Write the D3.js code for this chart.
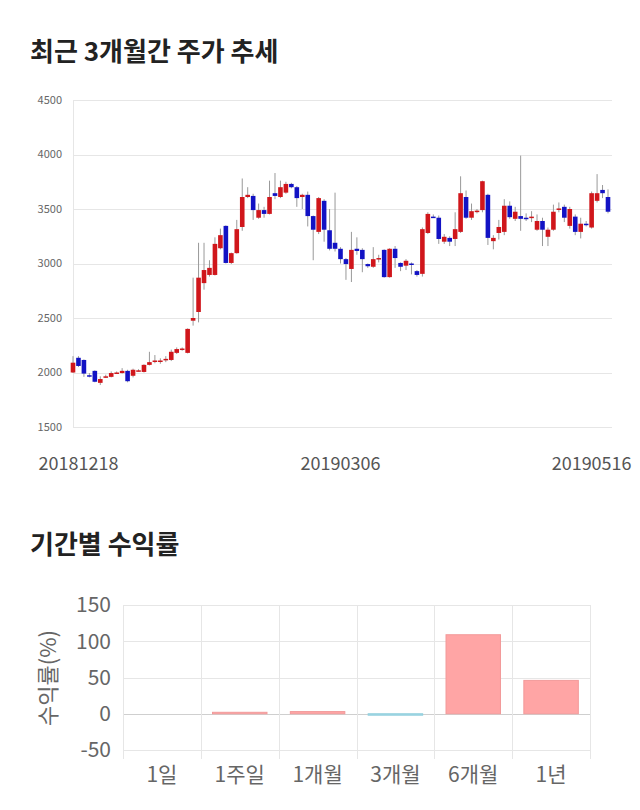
<!DOCTYPE html>
<meta charset="utf-8">
<style>
body {
	margin: 0;
	background: #fff;
	font-family: "Noto Sans CJK KR", "Noto Sans", sans-serif;
}
svg {
	display: block;
}
.title {
	font-size: 26px;
	font-weight: bold;
	fill: #222;
}
.grid line {
	stroke: #e6e6e6;
	shape-rendering: crispEdges;
}
.tick-label {
	fill: #666;
}
</style>
<body>
<svg width="640" height="810"></svg>

<script src="https://d3js.org/d3.v7.min.js"></script>
<script>

// daily candles: open, high, low, close
var opens  = [2000,2135,2115,1975,2015,1905,1955,1960,1995,1995,2015,1970,2015,2005,2070,2105,2105,2120,2115,2180,2215,2180,2475,2555,2820,2895,2895,3140,3345,3005,3095,3335,3610,3620,3420,3490,3455,3645,3610,3650,3730,3700,3610,3630,3435,3290,3575,3305,3190,3135,3040,2950,3135,3125,2995,2970,3045,3125,2875,3135,3005,2980,3000,2930,2905,3280,3430,3420,3200,3235,3225,3290,3610,3420,3480,3490,3630,3205,3280,3290,3530,3410,3435,3420,3425,3310,3390,3245,3310,3500,3520,3345,3430,3290,3365,3330,3575,3675,3610];
var highs  = [2150,2150,2120,1995,2020,1965,1980,2010,2010,2040,2025,2035,2030,2075,2190,2160,2130,2150,2210,2230,2230,2405,2870,3190,3190,3030,3240,3320,3350,3100,3400,3780,3700,3640,3550,3520,3760,3830,3760,3750,3740,3710,3640,3660,3440,3610,3590,3500,3650,3150,3050,3290,3240,3140,3000,3150,3080,3130,3140,3160,3010,3040,3010,2940,3330,3470,3450,3440,3270,3250,3470,3800,3670,3550,3500,3760,3640,3260,3400,3590,3570,3520,3990,3460,3480,3450,3420,3330,3540,3560,3540,3520,3450,3420,3390,3660,3820,3720,3680];
var lows   = [1995,2050,1960,1955,1910,1885,1950,1955,1990,1990,1910,1955,2010,2000,2065,2085,2080,2095,2105,2170,2200,2175,2430,2460,2760,2880,2890,3130,3000,2995,3090,3300,3600,3400,3410,3420,3450,3590,3600,3640,3690,3520,3500,3340,3030,3270,3200,3120,3110,3000,2850,2830,3080,2920,2960,2960,3010,2870,2870,2960,2930,2940,2900,2880,2880,3270,3420,3180,3180,3160,3160,3280,3410,3400,3460,3470,3170,3130,3220,3260,3410,3390,3300,3390,3380,3300,3160,3160,3300,3470,3380,3320,3260,3230,3340,3320,3560,3600,3460];
var closes = [2090,2060,1990,1965,1915,1940,1965,1995,2000,2015,1920,2025,2020,2070,2095,2110,2110,2125,2190,2215,2220,2400,2500,2870,2940,2960,3180,3260,3005,3095,3315,3610,3630,3490,3490,3455,3610,3620,3700,3730,3700,3600,3630,3435,3310,3600,3310,3135,3135,3040,2995,3125,3115,3040,2975,3040,3050,2875,3135,3050,2970,3025,2995,2895,3315,3455,3425,3225,3245,3200,3315,3645,3420,3480,3485,3755,3235,3235,3335,3530,3425,3475,3410,3415,3430,3390,3310,3310,3475,3505,3420,3500,3290,3365,3360,3645,3645,3645,3475];

var priceTicks = [1500, 2000, 2500, 3000, 3500, 4000, 4500];
var dateTicks = [{i: 1, label: "20181218"}, {i: 49, label: "20190306"}, {i: 95, label: "20190516"}];

// period returns (%)
var periods = ["1일", "1주일", "1개월", "3개월", "6개월", "1년"];
var returns = [0, 2, 3, -2, 109, 46];
var returnTicks = [-50, 0, 50, 100, 150];

var svg = d3.select("svg");

// ---- candle chart ----
svg.append("text").attr("class", "title")
	.attr("x", 30).attr("y", 61)
	.text("최근 3개월간 주가 추세");

var plotLeft = 73, plotRight = 612, plotTop = 100, plotBottom = 427;

var x = d3.scaleLinear()
	.domain([0, opens.length - 1])
	.range([73, 608]);

var y = d3.scaleLinear()
	.domain([1500, 4500])
	.range([plotBottom, plotTop]);

var grid = svg.append("g").attr("class", "grid");
grid.selectAll(".h")
	.data(priceTicks)
	.enter().append("line")
	.attr("x1", plotLeft).attr("x2", plotRight)
	.attr("y1", function(d) { return Math.round(y(d)) + 0.5; })
	.attr("y2", function(d) { return Math.round(y(d)) + 0.5; });
grid.append("line")
	.attr("x1", plotLeft + 0.5).attr("x2", plotLeft + 0.5)
	.attr("y1", plotTop).attr("y2", plotBottom);

svg.append("g").selectAll("text")
	.data(priceTicks)
	.enter().append("text")
	.attr("class", "tick-label")
	.attr("x", 62)
	.attr("y", function(d) { return y(d); })
	.attr("dy", "0.35em")
	.attr("text-anchor", "end")
	.style("font-size", "11px")
	.text(function(d) { return d; });

svg.append("g").selectAll("text")
	.data(dateTicks)
	.enter().append("text")
	.attr("x", function(d) { return x(d.i); })
	.attr("y", 470)
	.attr("text-anchor", "middle")
	.style("font-size", "18px")
	.style("fill", "#555")
	.text(function(d) { return d.label; });

var candles = svg.append("g");
opens.forEach(function(o, i) {
	var c = closes[i];
	var up = c >= o;
	var cx = x(i);
	candles.append("line")
		.attr("x1", cx).attr("x2", cx)
		.attr("y1", y(highs[i])).attr("y2", y(lows[i]))
		.attr("stroke", "#999")
		.attr("stroke-width", 1);
	var top1 = y(Math.max(o, c)), bot1 = y(Math.min(o, c));
	candles.append("rect")
		.attr("x", cx - 2.3)
		.attr("y", top1)
		.attr("width", 4.6)
		.attr("height", Math.max(1.5, bot1 - top1))
		.attr("fill", up ? "#d0161b" : "#1212c4");
});

// ---- return chart ----
svg.append("text").attr("class", "title")
	.attr("x", 30).attr("y", 554)
	.text("기간별 수익률");

var bx = d3.scaleBand()
	.domain(periods)
	.range([123, 590])
	.paddingInner(0.3)
	.paddingOuter(0.15);

var by = d3.scaleLinear()
	.domain([-50, 150])
	.range([750, 605]);

var bgrid = svg.append("g").attr("class", "grid");
bgrid.selectAll(".h")
	.data(returnTicks)
	.enter().append("line")
	.attr("x1", 123).attr("x2", 590)
	.attr("y1", function(d) { return Math.round(by(d)) + 0.5; })
	.attr("y2", function(d) { return Math.round(by(d)) + 0.5; })
	.style("stroke", function(d) { return d === 0 ? "#cfcfcf" : null; });

var step = bx.step();
var bounds = d3.range(periods.length + 1).map(function(k) { return 123 + k * step; });
bgrid.selectAll(".v")
	.data(bounds)
	.enter().append("line")
	.attr("x1", function(d) { return Math.round(d) + 0.5; })
	.attr("x2", function(d) { return Math.round(d) + 0.5; })
	.attr("y1", 605).attr("y2", 759);

svg.append("g").selectAll("text")
	.data(returnTicks)
	.enter().append("text")
	.attr("class", "tick-label")
	.attr("x", 111)
	.attr("y", function(d) { return by(d); })
	.attr("dy", "0.35em")
	.attr("text-anchor", "end")
	.style("font-size", "21px")
	.text(function(d) { return d; });

svg.append("g").selectAll("text")
	.data(periods)
	.enter().append("text")
	.attr("class", "tick-label")
	.attr("x", function(d) { return bx(d) + bx.bandwidth() / 2; })
	.attr("y", 782)
	.attr("text-anchor", "middle")
	.style("font-size", "21px")
	.text(function(d) { return d; });

svg.append("text")
	.attr("class", "tick-label")
	.attr("transform", "translate(56,678) rotate(-90)")
	.attr("text-anchor", "middle")
	.style("font-size", "22px")
	.text("수익률(%)");

svg.append("g").selectAll("rect")
	.data(returns)
	.enter().append("rect")
	.attr("x", function(d, i) { return bx(periods[i]); })
	.attr("width", bx.bandwidth())
	.attr("y", function(d) { return by(Math.max(0, d)); })
	.attr("height", function(d) { return Math.abs(by(d) - by(0)); })
	.attr("fill", function(d) { return d >= 0 ? "#ffa5a5" : "#a3d9e6"; })
	.attr("stroke", function(d) { return d >= 0 ? "#f29a9a" : "#92cfdd"; })
	.attr("stroke-width", 1);

</script>
</body>
